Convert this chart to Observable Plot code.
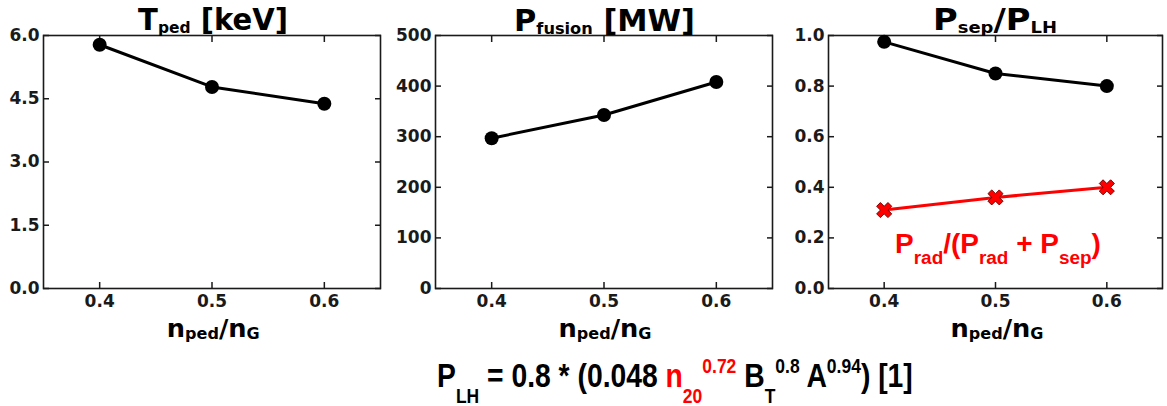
<!DOCTYPE html>
<html>
<head>
<meta charset="utf-8">
<script src="https://cdn.jsdelivr.net/npm/d3@7"></script>
<script src="https://cdn.jsdelivr.net/npm/@observablehq/plot@0.6"></script>
<style>
  body { margin: 0; background: #fff; }
  #root { position: relative; width: 1167px; height: 406px; overflow: hidden; background: #fff; }
  .panel { position: absolute; top: 0; }
  #overlay { position: absolute; left: 0; top: 0; pointer-events: none; }
</style>
</head>
<body>
<div id="root"></div>
<script>
// ---------- data ----------
const nRatio = [0.4, 0.5, 0.6];
const tPed = [5.78, 4.78, 4.38];
const pFusion = [297, 343, 408];
const pSepOverPLH = [0.975, 0.85, 0.80];
const pRadFraction = [0.31, 0.36, 0.40];

const xTicks = [0.4, 0.5, 0.6];
const tPedTicks = [0, 1.5, 3.0, 4.5, 6.0];
const pFusionTicks = [0, 100, 200, 300, 400, 500];
const ratioTicks = [0, 0.2, 0.4, 0.6, 0.8, 1.0];

const xDomain = [0.35, 0.65];

// ---------- helpers ----------
const boldX = {
  draw(ctx, size) {
    const r = Math.sqrt(size / Math.PI);
    const L = r, w = r * 0.33;
    const pts = [[-w,-L],[w,-L],[w,-w],[L,-w],[L,w],[w,w],[w,L],[-w,L],[-w,w],[-L,w],[-L,-w],[-w,-w]];
    const c = Math.SQRT1_2;
    pts.forEach(([px, py], i) => {
      const X = (px - py) * c, Y = (px + py) * c;
      if (i) ctx.lineTo(X, Y); else ctx.moveTo(X, Y);
    });
    ctx.closePath();
  }
};

function rows(ys) { return nRatio.map((x, i) => ({x, y: ys[i]})); }

function panel({left, marginLeft, innerW, marginRight, yDomain, yTicks, yFormat, extra = []}) {
  const marginTop = 35, innerH = 253, marginBottom = 34;
  const chart = Plot.plot({
    width: marginLeft + innerW + marginRight,
    height: marginTop + innerH + marginBottom,
    marginLeft, marginRight, marginTop, marginBottom,
    style: {fontFamily: "DejaVu Sans", fontSize: "17px", fontWeight: "bold", color: "#1a1a1a", background: "transparent"},
    x: {domain: xDomain},
    y: {domain: yDomain},
    marks: [
      Plot.axisX({anchor: "bottom", ticks: xTicks, tickSize: -6, tickPadding: 12, strokeWidth: 1.5, tickFormat: d3.format(".1f"), label: null, fontSize: 17}),
      Plot.axisX({anchor: "top", ticks: xTicks, tickSize: -6, strokeWidth: 1.5, tickFormat: () => "", label: null}),
      Plot.axisY({anchor: "left", ticks: yTicks, tickSize: -6, tickPadding: 10, strokeWidth: 1.5, tickFormat: yFormat, label: null, fontSize: 17}),
      Plot.axisY({anchor: "right", ticks: yTicks, tickSize: -6, strokeWidth: 1.5, tickFormat: () => "", label: null}),
      Plot.frame({stroke: "#1a1a1a", strokeWidth: 1.6}),
      ...extra
    ]
  });
  chart.classList.add("panel");
  chart.style.left = left + "px";
  return chart;
}

const root = document.getElementById("root");

root.appendChild(panel({
  left: 0, marginLeft: 43, innerW: 337, marginRight: 8,
  yDomain: [0, 6], yTicks: tPedTicks, yFormat: d3.format(".1f"),
  extra: [
    Plot.line(rows(tPed), {x: "x", y: "y", stroke: "black", strokeWidth: 3}),
    Plot.dot(rows(tPed), {x: "x", y: "y", fill: "black", r: 7})
  ]
}));

root.appendChild(panel({
  left: 390, marginLeft: 45, innerW: 337, marginRight: 8,
  yDomain: [0, 500], yTicks: pFusionTicks, yFormat: d3.format("d"),
  extra: [
    Plot.line(rows(pFusion), {x: "x", y: "y", stroke: "black", strokeWidth: 3}),
    Plot.dot(rows(pFusion), {x: "x", y: "y", fill: "black", r: 7})
  ]
}));

root.appendChild(panel({
  left: 780, marginLeft: 48, innerW: 334, marginRight: 5,
  yDomain: [0, 1], yTicks: ratioTicks, yFormat: d3.format(".1f"),
  extra: [
    Plot.line(rows(pSepOverPLH), {x: "x", y: "y", stroke: "black", strokeWidth: 3}),
    Plot.dot(rows(pSepOverPLH), {x: "x", y: "y", fill: "black", r: 7}),
    Plot.line(rows(pRadFraction), {x: "x", y: "y", stroke: "red", strokeWidth: 3}),
    Plot.dot(rows(pRadFraction), {x: "x", y: "y", symbol: boldX, r: 8, fill: "red", stroke: "#7a0000", strokeWidth: 1})
  ]
}));

// ---------- text overlay (titles, labels, formula) ----------
const overlay = d3.select(root).append("svg")
  .attr("id", "overlay").attr("width", 1167).attr("height", 406);

function addText(parts, {x, y, anchor = "middle", family, size, fill = "#000", width}) {
  const t = overlay.append("text")
    .attr("text-anchor", anchor)
    .attr("font-family", family)
    .attr("font-size", size)
    .attr("font-weight", "bold")
    .attr("fill", fill)
    .style("white-space", "pre");
  let cur = 0;
  for (const p of parts) {
    const off = p.off || 0;
    const ts = t.append("tspan").text(p.t).attr("dy", off - cur);
    if (p.size) ts.attr("font-size", p.size);
    if (p.fill) ts.attr("fill", p.fill);
    cur = off;
  }
  const w = t.node().getBBox().width;
  const sx = width ? width / w : 1;
  t.attr("transform", `translate(${x},${y}) scale(${sx},1)`);
}

const dv = "DejaVu Sans";
const sub = (t, size, off) => ({t, size, off});

addText([{t: "T"}, sub("ped", 16, 3), {t: " [keV]"}], {x: 213, y: 30, family: dv, size: 30, width: 150});
addText([{t: "P"}, sub("fusion", 16, 3), {t: " [MW]"}], {x: 604.5, y: 31, family: dv, size: 30, width: 181});
addText([{t: "P"}, sub("sep", 16, 3), {t: "/P"}, sub("LH", 16, 3)], {x: 995, y: 30, family: dv, size: 30, width: 124});

const xl = [{t: "n"}, sub("ped", 15, 2), {t: "/n"}, sub("G", 15, 2)];
addText(xl, {x: 213.3, y: 336.7, family: dv, size: 24, width: 93});
addText(xl, {x: 605, y: 336.7, family: dv, size: 24, width: 93});
addText(xl, {x: 997, y: 336.7, family: dv, size: 24, width: 93});

const ls = "Liberation Sans, Arial, sans-serif";
addText([{t: "P"}, sub("rad", 19, 11), {t: "/(P"}, sub("rad", 19, 11), {t: " + P"}, sub("sep", 19, 11), {t: ")"}],
  {x: 998, y: 253.3, family: ls, size: 28, fill: "#ff0000", width: 206});

const red = "#ff0000";
addText([
  {t: "P"}, {t: "LH", size: 21, off: 16},
  {t: " = 0.8 * (0.048 "},
  {t: "n", fill: red}, {t: "20", size: 21, off: 16, fill: red}, {t: "0.72", size: 21, off: -14, fill: red},
  {t: " B"}, {t: "T", size: 21, off: 16}, {t: "0.8", size: 21, off: -14},
  {t: " A"}, {t: "0.94", size: 21, off: -14},
  {t: ") [1]"}
], {x: 437, y: 386.7, anchor: "start", family: ls, size: 34, width: 476});
</script>
</body>
</html>
